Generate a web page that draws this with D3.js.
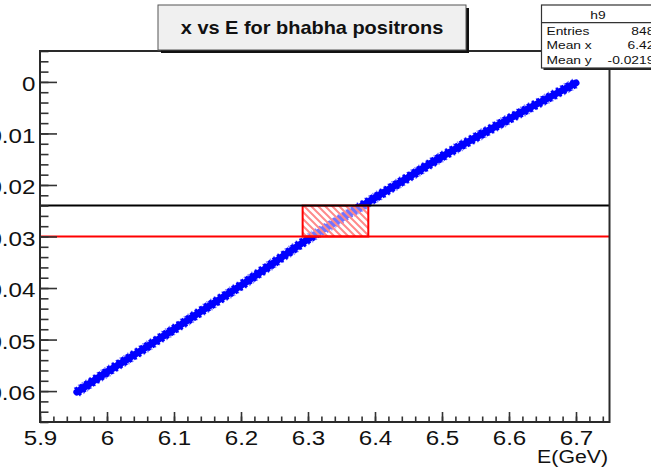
<!DOCTYPE html>
<html>
<head>
<meta charset="utf-8">
<script src="https://cdn.jsdelivr.net/npm/d3@7"></script>
<style>
  html, body { margin: 0; padding: 0; background: #fff; overflow: hidden; }
  svg { display: block; font-family: "Liberation Sans", Arial, Helvetica, sans-serif; }
</style>
</head>
<body>
<svg id="chart" width="651" height="467"></svg>
<script>
// ---------- data ----------
const titleText = "x vs E for bhabha positrons";
const xAxisTitle = "E(GeV)";
const xMajorTicks = [5.9, 6.0, 6.1, 6.2, 6.3, 6.4, 6.5, 6.6, 6.7];
const xTickLabels = ["5.9", "6", "6.1", "6.2", "6.3", "6.4", "6.5", "6.6", "6.7"];
const yMajorTicks = [0, -0.01, -0.02, -0.03, -0.04, -0.05, -0.06];
const yTickLabels = ["0", "-0.01", "-0.02", "-0.03", "-0.04", "-0.05", "-0.06"];
// band centre (E in GeV, x)
const bandE = [5.955, 6.00, 6.05, 6.10, 6.15, 6.20, 6.25, 6.30, 6.35, 6.40, 6.45, 6.50, 6.55, 6.60, 6.65, 6.70];
const bandX = [-0.0602, -0.0563, -0.0522, -0.0480, -0.0437, -0.0395, -0.0350, -0.0305, -0.0265, -0.0225, -0.0185, -0.0145, -0.0108, -0.0072, -0.0037, -0.0002];
const cutUpper = -0.024;   // black line
const cutLower = -0.030;   // red line
const boxE = [6.292, 6.39];
const statsLabels = ["Entries", "Mean x", "Mean y"];
const statsValues = ["8482", "6.422", "-0.02195"];
const statsName = "h9";

// ---------- layout ----------
const svg = d3.select("#chart");
const frame = { left: 40, right: 609.5, top: 51, bottom: 422 };
const x = d3.scaleLinear().domain([5.9, 6.75]).range([frame.left, frame.right]);
const y = d3.scaleLinear().domain([-0.066, 0.006]).range([frame.bottom, frame.top]);
const hs = 1.15; // horizontal stretch of the source rendering

const defs = svg.append("defs");
const pat = defs.append("pattern").attr("id", "hatch")
  .attr("patternUnits", "userSpaceOnUse").attr("width", 7).attr("height", 7);
pat.append("path").attr("d", "M-1,-1 L8,8 M-8,-1 L1,8 M6,-1 L15,8")
  .attr("stroke", "#ff8a8a").attr("stroke-width", 2);

const clip = defs.append("clipPath").attr("id", "frameclip");
clip.append("rect").attr("x", frame.left).attr("y", frame.top)
  .attr("width", frame.right - frame.left).attr("height", frame.bottom - frame.top);

// ---------- band ----------
const pts = bandE.map((e, i) => [e, bandX[i]]);
const line = d3.line().x(d => x(d[0])).y(d => y(d[1])).curve(d3.curveMonotoneX);
const g = svg.append("g").attr("clip-path", "url(#frameclip)");
g.append("path").attr("d", line(pts)).attr("fill", "none")
  .attr("stroke", "#4040ff").attr("stroke-width", 11).attr("stroke-dasharray", "1.5 3")
  .attr("opacity", 0.6);
g.append("path").attr("d", line(pts)).attr("fill", "none")
  .attr("stroke", "#0000ff").attr("stroke-width", 9.5).attr("stroke-dasharray", "3 2.5");
g.append("path").attr("d", line(pts)).attr("fill", "none")
  .attr("stroke", "#0000ff").attr("stroke-width", 7).attr("stroke-linecap", "round");

// ---------- selection box ----------
const bx0 = x(boxE[0]), bx1 = x(boxE[1]), by0 = y(cutUpper), by1 = y(cutLower);
g.append("rect").attr("x", bx0).attr("y", by0).attr("width", bx1 - bx0).attr("height", by1 - by0)
  .attr("fill", "#ffffff").attr("opacity", 0.45);
g.append("rect").attr("x", bx0).attr("y", by0).attr("width", bx1 - bx0).attr("height", by1 - by0)
  .attr("fill", "url(#hatch)");
g.append("rect").attr("x", bx0).attr("y", by0).attr("width", bx1 - bx0).attr("height", by1 - by0)
  .attr("fill", "none").attr("stroke", "#ff0000").attr("stroke-width", 2);

g.append("line").attr("x1", frame.left).attr("x2", frame.right)
  .attr("y1", y(cutUpper)).attr("y2", y(cutUpper)).attr("stroke", "#000").attr("stroke-width", 2);
g.append("line").attr("x1", frame.left).attr("x2", frame.right)
  .attr("y1", y(cutLower)).attr("y2", y(cutLower)).attr("stroke", "#ff0000").attr("stroke-width", 2);

// ---------- axes ----------
const tickColor = "#333";
const xMinor = d3.range(0, 43).map(i => +(5.9 + i * 0.02).toFixed(3)).filter(v => v <= 6.75);
const yMinor = d3.range(0, 37).map(i => +(-0.066 + i * 0.002).toFixed(4)).filter(v => v <= 0.006);

const xMinorAxis = d3.axisBottom(x).tickValues(xMinor).tickSizeInner(-5.5).tickSizeOuter(0).tickFormat("");
const xAxis = d3.axisBottom(x).tickValues(xMajorTicks).tickSizeInner(-10).tickSizeOuter(0).tickPadding(8)
  .tickFormat((d, i) => xTickLabels[i]);
const yMinorAxis = d3.axisLeft(y).tickValues(yMinor).tickSizeInner(-8.5).tickSizeOuter(0).tickFormat("");
const yAxis = d3.axisLeft(y).tickValues(yMajorTicks).tickSizeInner(-17).tickSizeOuter(0).tickPadding(4)
  .tickFormat((d, i) => yTickLabels[i]);

function styleAxis(sel) {
  sel.select(".domain").remove();
  sel.selectAll(".tick line").attr("stroke", tickColor).attr("stroke-width", 1.6);
  sel.selectAll(".tick text").attr("fill", "#111").attr("font-size", 21)
    .attr("font-family", "'Liberation Sans', Arial, Helvetica, sans-serif");
}
svg.append("g").attr("transform", `translate(0,${frame.bottom})`).call(xMinorAxis).call(styleAxis);
const gx = svg.append("g").attr("transform", `translate(0,${frame.bottom})`).call(xAxis).call(styleAxis);
gx.selectAll(".tick text").attr("transform", `scale(${hs},1)`);
svg.append("g").attr("transform", `translate(${frame.left},0)`).call(yMinorAxis).call(styleAxis);
const gy = svg.append("g").attr("transform", `translate(${frame.left},0)`).call(yAxis).call(styleAxis);
gy.selectAll(".tick text").attr("dy", "0.42em").attr("transform", `scale(${hs},1)`);

// frame
svg.append("rect").attr("x", frame.left).attr("y", frame.top)
  .attr("width", frame.right - frame.left).attr("height", frame.bottom - frame.top)
  .attr("fill", "none").attr("stroke", "#2a2a2a").attr("stroke-width", 2);

// x axis title
svg.append("text").attr("transform", `translate(608,463) scale(${hs},1)`)
  .attr("text-anchor", "end").attr("font-size", 18.5).attr("fill", "#111").text(xAxisTitle);

// ---------- title box ----------
const tb = { x: 158, y: 5, w: 308, h: 45 };
svg.append("rect").attr("x", tb.x + 3).attr("y", tb.y + 3).attr("width", tb.w).attr("height", tb.h).attr("fill", "#111");
svg.append("rect").attr("x", tb.x).attr("y", tb.y).attr("width", tb.w).attr("height", tb.h)
  .attr("fill", "#f0f0f0").attr("stroke", "#555").attr("stroke-width", 1);
svg.append("text").attr("transform", `translate(${tb.x + tb.w / 2},34) scale(1.14,1)`)
  .attr("text-anchor", "middle").attr("font-size", 17.5).attr("font-weight", "bold").attr("fill", "#111").text(titleText);

// ---------- stats box ----------
const sb = { x: 541.5, y: 5, w: 125, h: 63 };
svg.append("rect").attr("x", sb.x + 2).attr("y", sb.y + 2).attr("width", sb.w).attr("height", sb.h).attr("fill", "#222");
svg.append("rect").attr("x", sb.x).attr("y", sb.y).attr("width", sb.w).attr("height", sb.h)
  .attr("fill", "#fff").attr("stroke", "#333").attr("stroke-width", 1.2);
svg.append("line").attr("x1", sb.x).attr("x2", sb.x + sb.w).attr("y1", 22.7).attr("y2", 22.7)
  .attr("stroke", "#333").attr("stroke-width", 1.2);
svg.append("text").attr("transform", `translate(598,18.5) scale(1.2,1)`).attr("text-anchor", "middle")
  .attr("font-size", 11.5).attr("fill", "#111").text(statsName);
const rowY = [34.5, 49, 63.5];
statsLabels.forEach((lab, i) => {
  svg.append("text").attr("transform", `translate(546.5,${rowY[i]}) scale(1.2,1)`)
    .attr("font-size", 11.5).attr("fill", "#111").text(lab);
  svg.append("text").attr("transform", `translate(662,${rowY[i]}) scale(1.2,1)`).attr("text-anchor", "end")
    .attr("font-size", 11.5).attr("fill", "#111").text(statsValues[i]);
});
</script>
</body>
</html>
